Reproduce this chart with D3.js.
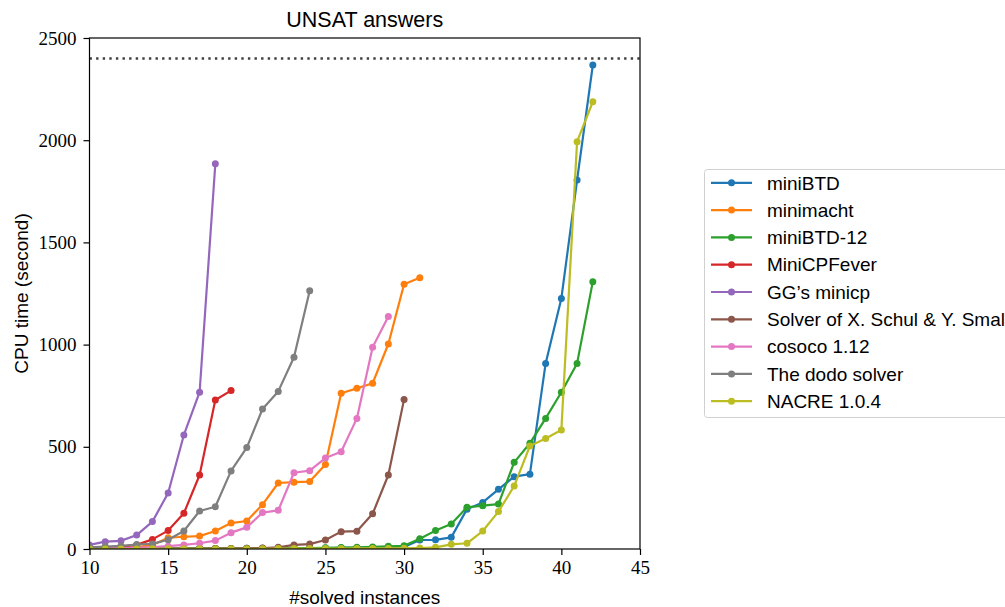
<!DOCTYPE html>
<html><head><meta charset="utf-8">
<script src="https://cdn.jsdelivr.net/npm/d3@7"></script>
<style>body{margin:0;background:#fff}</style>
</head><body>
<svg id="c" width="1005" height="607"></svg>
<script>
const seriesNames = ["miniBTD","minimacht","miniBTD-12","MiniCPFever","GG\u2019s minicp","Solver of X. Schul & Y. Smal","cosoco 1.12","The dodo solver","NACRE 1.0.4"];
const colors = ["#1f77b4","#ff7f0e","#2ca02c","#d62728","#9467bd","#8c564b","#e377c2","#7f7f7f","#bcbd22"];
const startX = [10,10,10,10,10,10,10,10,10];
const miniBTD = [1,1,1,2,2,2,3,3,3,3,4,4,4,5,5,5,6,6,7,8,10,44,45,57,195,228,292,354,366,908,1226,1805,2368];
const minimacht = [2,3,5,8,20,55,60,63,88,127,137,217,323,327,330,413,762,786,811,1003,1295,1327];
const miniBTD12 = [1,1,1,1,2,2,2,2,3,3,3,4,4,5,5,6,7,8,10,13,16,50,90,122,204,212,220,424,517,639,767,908,1308];
const miniCPFever = [5,8,12,20,47,90,175,362,729,775];
const ggMinicp = [20,36,40,68,134,274,558,767,1885];
const schulSmal = [1,1,1,1,1,2,2,2,3,3,4,5,8,20,24,44,85,87,172,362,732];
const cosoco = [2,3,4,6,9,14,20,28,41,80,106,178,189,373,383,445,476,639,987,1137];
const dodo = [8,12,15,22,25,45,88,186,207,382,496,685,771,938,1263];
const nacre = [0,0,0,0,1,1,1,1,1,1,1,1,2,2,2,2,2,3,3,3,4,5,8,23,28,88,183,308,504,541,582,1993,2188];
const seriesValues = [miniBTD,minimacht,miniBTD12,miniCPFever,ggMinicp,schulSmal,cosoco,dodo,nacre];
const xTicks = [10,15,20,25,30,35,40,45];
const yTicks = [0,500,1000,1500,2000,2500];
const timeLimit = 2400;

const svg = d3.select("#c");
const m = {l:89.5, r:640, t:38, b:549};
const x = d3.scaleLinear().domain([10,45]).range([m.l,m.r]);
const y = d3.scaleLinear().domain([0,2500]).range([m.b,m.t]);

svg.append("defs").append("clipPath").attr("id","clip")
  .append("rect").attr("x",m.l).attr("y",m.t).attr("width",m.r-m.l).attr("height",m.b-m.t);

const serif = "'Liberation Serif','Times New Roman',serif";
const sans = "'Liberation Sans',Arial,Helvetica,sans-serif";

// time limit dotted line
svg.append("line").attr("x1",m.l).attr("x2",m.r).attr("y1",y(timeLimit)).attr("y2",y(timeLimit))
  .attr("stroke","#404040").attr("stroke-width",2.4).attr("stroke-dasharray","2.4,4.2");

const g = svg.append("g").attr("clip-path","url(#clip)");
const line = d3.line().x(d=>x(d[0])).y(d=>y(d[1]));
seriesValues.forEach((vals,i)=>{
  const pts = vals.map((v,j)=>[startX[i]+j, v]);
  g.append("path").datum(pts).attr("d",line).attr("fill","none")
    .attr("stroke",colors[i]).attr("stroke-width",2.2).attr("stroke-linejoin","round");
  g.selectAll(null).data(pts).enter().append("circle")
    .attr("cx",d=>x(d[0])).attr("cy",d=>y(d[1])).attr("r",3.5).attr("fill",colors[i]);
});

// frame
svg.append("rect").attr("x",m.l).attr("y",m.t).attr("width",m.r-m.l).attr("height",m.b-m.t)
  .attr("fill","none").attr("stroke","#000").attr("stroke-width",1.2);

const xa = svg.append("g").attr("transform",`translate(0,${m.b})`)
  .call(d3.axisBottom(x).tickValues(xTicks).tickSize(6).tickPadding(6).tickFormat(d3.format("d")));
const ya = svg.append("g").attr("transform",`translate(${m.l},0)`)
  .call(d3.axisLeft(y).tickValues(yTicks).tickSize(6).tickPadding(7).tickFormat(d3.format("d")));
[xa,ya].forEach(a=>{
  a.select(".domain").remove();
  a.selectAll("line").attr("stroke","#000").attr("stroke-width",1.2);
  a.selectAll("text").attr("font-family",serif).attr("font-size",19).attr("fill","#000");
});

svg.append("text").attr("x",(m.l+m.r)/2).attr("y",26.5).attr("text-anchor","middle")
  .attr("font-family",sans).attr("font-size",21.5).text("UNSAT answers");
svg.append("text").attr("x",(m.l+m.r)/2).attr("y",603.5).attr("text-anchor","middle")
  .attr("font-family",sans).attr("font-size",19).text("#solved instances");
svg.append("text").attr("transform",`translate(27.5,${(m.t+m.b)/2}) rotate(-90)`).attr("text-anchor","middle")
  .attr("font-family",sans).attr("font-size",19).text("CPU time (second)");

// legend
const lg = svg.append("g");
lg.append("rect").attr("x",704.5).attr("y",169.5).attr("width",330).attr("height",248).attr("rx",3)
  .attr("fill","#fff").attr("stroke","#d0d0d0");
seriesNames.forEach((n,i)=>{
  const yy = 182.8 + i*27.3;
  lg.append("line").attr("x1",711).attr("x2",752).attr("y1",yy).attr("y2",yy)
    .attr("stroke",colors[i]).attr("stroke-width",2.2);
  lg.append("circle").attr("cx",731.5).attr("cy",yy).attr("r",3.5).attr("fill",colors[i]);
  lg.append("text").attr("x",767).attr("y",yy+6.7).attr("font-family",sans).attr("font-size",19).text(n);
});
</script>
</body></html>
